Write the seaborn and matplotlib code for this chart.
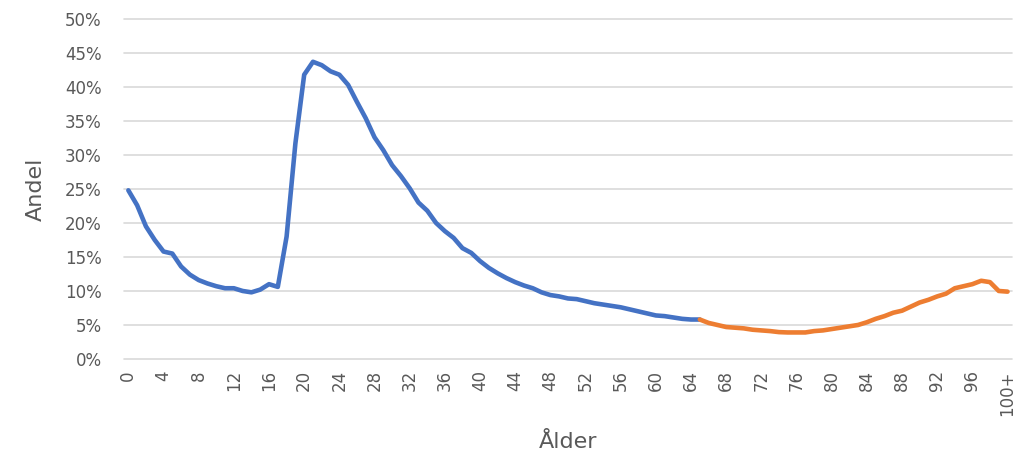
import numpy as np
import pandas as pd
import seaborn as sns
import matplotlib.pyplot as plt
from matplotlib.ticker import PercentFormatter

sns.set_theme(style="whitegrid")
plt.rcParams['font.family'] = ['Liberation Sans Narrow', 'DejaVu Sans']

# age labels 0..99 plus 100+
labels = [str(a) for a in range(100)] + ['100+']

# share (%) per age
andel = [24.8, 22.6, 19.5, 17.5, 15.8, 15.5, 13.6, 12.4, 11.6, 11.1,
         10.7, 10.4, 10.4, 10.0, 9.8, 10.2, 11.0, 10.6, 18.0, 31.7,
         41.8, 43.7, 43.2, 42.3, 41.8, 40.3, 37.8, 35.4, 32.6, 30.7,
         28.5, 26.9, 25.1, 23.0, 21.8, 20.0, 18.8, 17.8, 16.3, 15.6,
         14.4, 13.4, 12.6, 11.9, 11.3, 10.8, 10.4, 9.8, 9.4, 9.2,
         8.9, 8.8, 8.5, 8.2, 8.0, 7.8, 7.6, 7.3, 7.0, 6.7,
         6.4, 6.3, 6.1, 5.9, 5.8, 5.8, 5.3, 5.0, 4.7, 4.6,
         4.5, 4.3, 4.2, 4.1, 3.95, 3.9, 3.9, 3.9, 4.1, 4.2,
         4.4, 4.6, 4.8, 5.0, 5.4, 5.9, 6.3, 6.8, 7.1, 7.7,
         8.3, 8.7, 9.2, 9.6, 10.4, 10.7, 11.0, 11.5, 11.3, 10.0,
         9.9]
split_age = 65  # blue up to 65, orange from 65

df = pd.DataFrame({'pos': np.arange(len(labels)), 'Alder': labels, 'Andel': andel})
young = df[df['pos'] <= split_age]
old = df[df['pos'] >= split_age]

fig = plt.figure(figsize=(10.16, 4.62), dpi=100)
ax = fig.add_axes([0.122, 0.223, 0.874, 0.736])

sns.lineplot(data=young, x='pos', y='Andel', color='#4472C4', linewidth=3.3, ax=ax)
sns.lineplot(data=old, x='pos', y='Andel', color='#ED7D31', linewidth=3.3, ax=ax)

ax.set_xlim(-0.5, len(labels) - 0.5)
ax.set_ylim(0, 50)
ax.set_yticks(np.arange(0, 51, 5))
ax.yaxis.set_major_formatter(PercentFormatter(decimals=0))
tick_pos = list(range(0, 100, 4)) + [100]
ax.set_xticks(tick_pos)
ax.set_xticklabels([labels[i] for i in tick_pos], rotation=90)

ax.grid(axis='x', visible=False)
ax.grid(axis='y', color='#d9d9d9', linewidth=1.2)
for gl in ax.get_ygridlines():
    gl.set_clip_on(False)
for s in ['top', 'right', 'left', 'bottom']:
    ax.spines[s].set_visible(False)
ax.tick_params(axis='both', length=0, labelsize=12, colors='#595959')
ax.tick_params(axis='y', pad=16)
ax.tick_params(axis='x', pad=8)

ax.set_xlabel('Ålder', fontsize=16, color='#595959', labelpad=12)
ax.set_ylabel('Andel', fontsize=16, color='#595959', labelpad=14)

plt.savefig('out.png', dpi=100)
